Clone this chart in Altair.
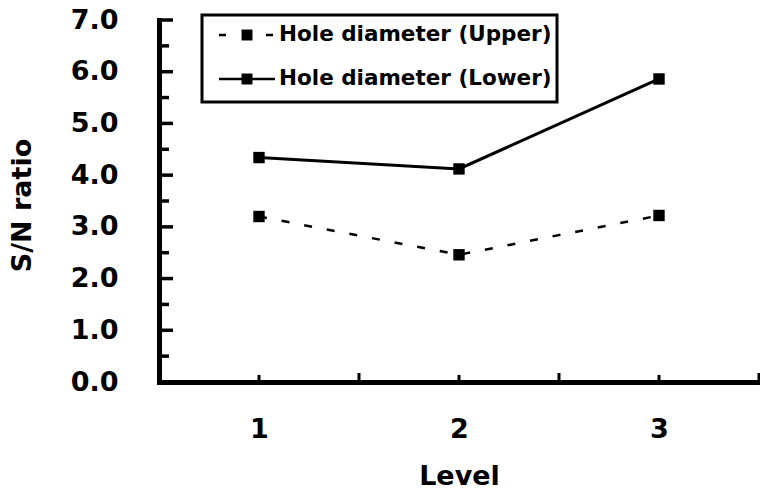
import altair as alt
import pandas as pd

# S/N ratio by level for the two hole-diameter responses
levels = [1, 2, 3]
upper_sn = [3.20, 2.46, 3.22]
lower_sn = [4.34, 4.12, 5.86]
series_names = ["Hole diameter (Upper)", "Hole diameter (Lower)"]

# axis tick positions
x_label_ticks = [1, 2, 3]
x_half_ticks = [1.5, 2.5, 3.5]
y_major_ticks = [0, 1, 2, 3, 4, 5, 6, 7]
y_minor_ticks = [0.5, 1.5, 2.5, 3.5, 4.5, 5.5, 6.5]

W, H = 600, 362
FONT = "DejaVu Sans"

upper_df = pd.DataFrame({"level": levels, "sn": upper_sn, "series": series_names[0]})
lower_df = pd.DataFrame({"level": levels, "sn": lower_sn, "series": series_names[1]})

x_scale = alt.Scale(domain=[0.5, 3.5], nice=False, zero=False)
y_scale = alt.Scale(domain=[0, 7], nice=False)

x_enc = alt.X(
    "level:Q",
    scale=x_scale,
    axis=alt.Axis(
        title="Level",
        values=x_label_ticks,
        format="d",
        ticks=False,
        tickSize=0,
        grid=False,
        domainColor="black",
        domainWidth=5,
        domainCap="square",
        labelFont=FONT,
        labelFontWeight="bold",
        labelFontSize=27,
        labelColor="black",
        labelPadding=34,
        titleFont=FONT,
        titleFontWeight="bold",
        titleFontSize=27,
        titleColor="black",
        titlePadding=21,
    ),
)
y_enc = alt.Y(
    "sn:Q",
    scale=y_scale,
    axis=alt.Axis(
        title="S/N ratio",
        values=y_major_ticks,
        format=".1f",
        ticks=False,
        tickSize=0,
        grid=False,
        domainColor="black",
        domainWidth=5,
        domainCap="square",
        labelFont=FONT,
        labelFontWeight="bold",
        labelFontSize=27,
        labelColor="black",
        labelPadding=41,
        titleFont=FONT,
        titleFontWeight="bold",
        titleFontSize=27,
        titleColor="black",
        titleAngle=270,
        titleAlign="center",
        titleBaseline="middle",
        titleX=-137,
        titleY=185,
    ),
)

upper_line = alt.Chart(upper_df).mark_line(
    color="black", strokeWidth=2.5, strokeDash=[8, 15]
).encode(x=x_enc, y=y_enc)
upper_pts = alt.Chart(upper_df).mark_square(
    color="black", size=130, opacity=1
).encode(x=alt.X("level:Q", scale=x_scale), y=alt.Y("sn:Q", scale=y_scale))

lower_line = alt.Chart(lower_df).mark_line(
    color="black", strokeWidth=3
).encode(x=alt.X("level:Q", scale=x_scale), y=alt.Y("sn:Q", scale=y_scale))
lower_pts = alt.Chart(lower_df).mark_square(
    color="black", size=130, opacity=1
).encode(x=alt.X("level:Q", scale=x_scale), y=alt.Y("sn:Q", scale=y_scale))

# inward-pointing tick marks
y_major = alt.Chart(pd.DataFrame({"v": y_major_ticks})).mark_rule(
    color="black", strokeWidth=3.5
).encode(y=alt.Y("v:Q", scale=y_scale), x=alt.value(0), x2=alt.value(14))
y_minor = alt.Chart(pd.DataFrame({"v": y_minor_ticks})).mark_rule(
    color="black", strokeWidth=3.5
).encode(y=alt.Y("v:Q", scale=y_scale), x=alt.value(0), x2=alt.value(10))
x_int = alt.Chart(pd.DataFrame({"v": x_label_ticks})).mark_rule(
    color="black", strokeWidth=3
).encode(x=alt.X("v:Q", scale=x_scale), y=alt.value(H), y2=alt.value(H - 7))
x_half = alt.Chart(pd.DataFrame({"v": x_half_ticks})).mark_rule(
    color="black", strokeWidth=3
).encode(x=alt.X("v:Q", scale=x_scale), y=alt.value(H), y2=alt.value(H - 9))

# boxed legend in the upper left
box = alt.Chart(pd.DataFrame({"k": [0]})).mark_rect(
    fill="white", stroke="black", strokeWidth=3
).encode(x=alt.value(43), x2=alt.value(398), y=alt.value(-5), y2=alt.value(82))

row_y = [15, 59]
legend_layers = []
for name, ry, dash in zip(series_names, row_y, [[7, 40], None]):
    d = pd.DataFrame({"label": [name]})
    rule_kwargs = dict(color="black", strokeWidth=2.5)
    if dash:
        rule_kwargs["strokeDash"] = dash
    legend_layers.append(
        alt.Chart(d).mark_rule(**rule_kwargs).encode(
            x=alt.value(60), x2=alt.value(116), y=alt.value(ry)
        )
    )
    legend_layers.append(
        alt.Chart(d).mark_square(color="black", size=120, opacity=1).encode(
            x=alt.value(88), y=alt.value(ry)
        )
    )
    legend_layers.append(
        alt.Chart(d).mark_text(
            font=FONT, fontWeight="bold", fontSize=21.5, align="left",
            baseline="middle", color="black"
        ).encode(x=alt.value(120), y=alt.value(ry), text="label:N")
    )

chart = alt.layer(
    upper_line, lower_line, upper_pts, lower_pts,
    y_major, y_minor, x_int, x_half,
    box, *legend_layers
).properties(
    width=W,
    height=H,
    autosize=alt.AutoSizeParams(type="none"),
    padding={"left": 159, "top": 20, "right": 1, "bottom": 111},
    background="white",
).configure_view(stroke=None)

chart.save("out.html", embed_options={"renderer": "svg", "actions": False})
